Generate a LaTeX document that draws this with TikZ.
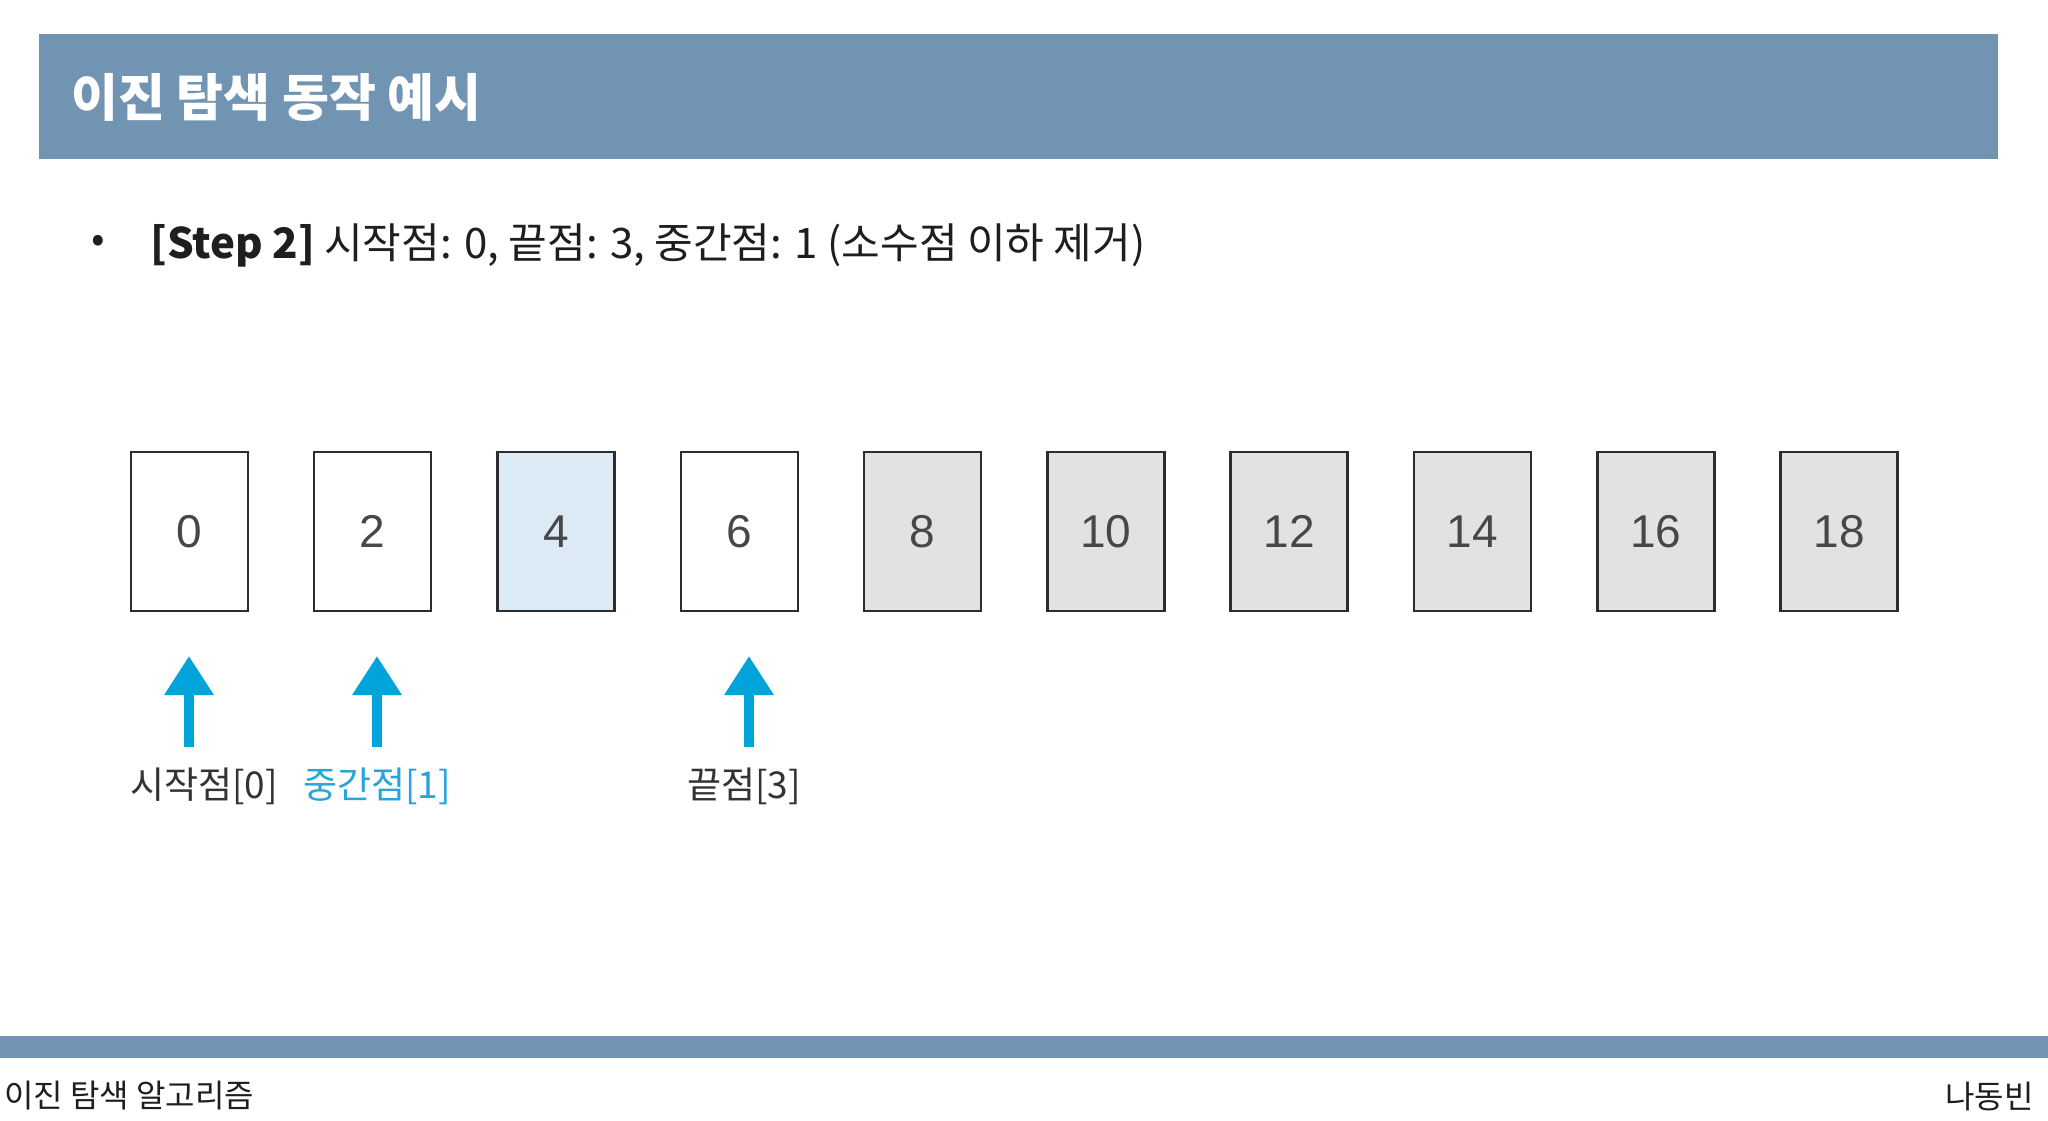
\documentclass[tikz,border=0pt]{standalone}
\usepackage{fontspec}
\setmainfont{Noto Sans CJK KR}
\newfontfamily\kr{Noto Sans CJK KR}
\newfontfamily\num{Liberation Sans}
\usetikzlibrary{arrows.meta}
\definecolor{barblue}{RGB}{113,148,179}
\definecolor{arrblue}{RGB}{0,163,218}
\definecolor{labblue}{RGB}{40,163,221}
\definecolor{lightfill}{RGB}{220,234,246}
\definecolor{grayfill}{RGB}{226,226,228}
\definecolor{edge}{RGB}{45,45,45}
\definecolor{txt}{RGB}{30,30,30}
\tikzset{
  cell/.style={draw=edge, line width=2.5pt, minimum width=117pt, minimum height=159pt, inner sep=0pt,
    font=\num\fontsize{46}{46}\selectfont, text=black!72},
  plain/.style={cell, fill=white},
  done/.style={cell, fill=grayfill},
  midcell/.style={cell, fill=lightfill},
  ptr/.style={draw=arrblue, line width=10pt, -{Triangle[width=47pt,length=39pt]}},
  lab/.style={font=\kr\fontsize{37}{37}\selectfont, inner sep=0pt, anchor=west}
}
\begin{document}
\begin{tikzpicture}[x=1pt,y=-1pt]
\useasboundingbox[fill=white] (0,0) rectangle (2048,1120);
% title bar
\node[fill=barblue, minimum width=1959pt, minimum height=125pt, inner sep=0pt, anchor=north west] (bar) at (39,34) {};
\node[anchor=west, text=white, font=\kr\bfseries\fontsize{51}{51}\selectfont, inner sep=0pt] (title) at (71,97) {이진 탐색 동작 예시};
% bullet line
\node[anchor=center, font=\kr\fontsize{40}{40}\selectfont, inner sep=0pt, text=txt] (bul) at (98,244) {•};
\node[anchor=west, font=\kr\fontsize{42}{42}\selectfont, inner sep=0pt, text=txt] (step) at (150,245) {\textbf{[Step 2]} 시작점: 0, 끝점: 3, 중간점: 1 (소수점 이하 제거)};
% cells
\foreach \i/\v/\s in {0/0/plain,1/2/plain,2/4/midcell,3/6/plain,4/8/done,5/10/done,6/12/done,7/14/done,8/16/done,9/18/done}{
  \node[\s] (c\i) at ({189.4+\i*183.3},531.5) {\v};
}
% pointers
\coordinate (t0) at (189,656); \coordinate (s0) at (189,747);
\coordinate (t1) at (377,656); \coordinate (s1) at (377,747);
\coordinate (t3) at (749,656); \coordinate (s3) at (749,747);
\draw[ptr] (s0) -- (t0);
\draw[ptr] (s1) -- (t1);
\draw[ptr] (s3) -- (t3);
\node[lab, text=black!80] (l0) at (130,786) {시작점[0]};
\node[lab, text=labblue] (l1) at (303,786) {중간점[1]};
\node[lab, text=black!80] (l3) at (687,786) {끝점[3]};
% footer
\node[fill=barblue, minimum width=2048pt, minimum height=22pt, inner sep=0pt, anchor=north west] (foot) at (0,1036) {};
\node[anchor=west, font=\kr\fontsize{32}{32}\selectfont, inner sep=0pt, text=txt] (fl) at (4,1096) {이진 탐색 알고리즘};
\node[anchor=east, font=\kr\fontsize{32}{32}\selectfont, inner sep=0pt, text=txt] (fr) at (2034,1096) {나동빈};
\end{tikzpicture}
\end{document}
